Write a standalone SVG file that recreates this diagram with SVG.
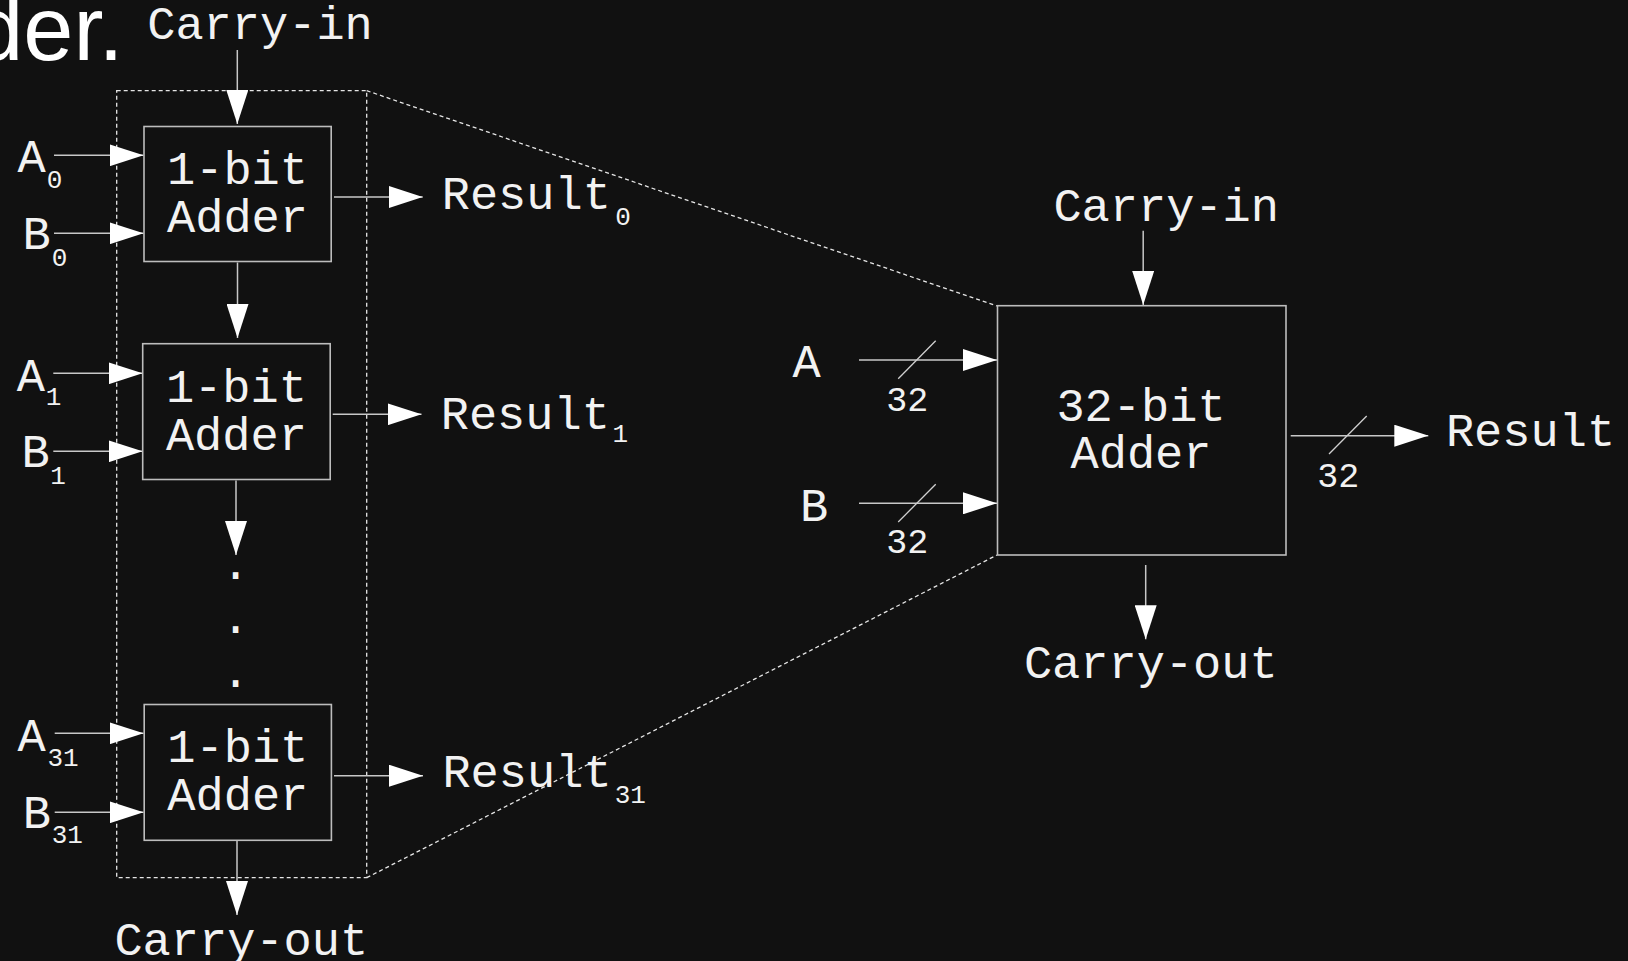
<svg xmlns="http://www.w3.org/2000/svg" width="1628" height="961" viewBox="0 0 1628 961">
  <defs>
    <marker id="ah" viewBox="0 0 34 22" refX="34" refY="11" markerWidth="34" markerHeight="22" markerUnits="userSpaceOnUse" orient="auto">
      <path d="M0,0 L34,11 L0,22 z" fill="#ffffff"/>
    </marker>
    <style>
      .bg { fill: #111111; }
      .box { fill: #111111; stroke: #bdbdbd; stroke-width: 1.6; }
      .dash { fill: none; stroke: #e6e6e6; stroke-width: 1.3; stroke-dasharray: 4 3; }
      .wire { fill: none; stroke: #c8c8c8; stroke-width: 1.5; marker-end: url(#ah); }
      .slash { fill: none; stroke: #d0d0d0; stroke-width: 1.3; }
      .t { font-family: "Liberation Mono", "Courier New", monospace; font-size: 47px; fill: #f2f2f2; text-anchor: middle; }
      .sub { font-family: "Liberation Mono", "Courier New", monospace; font-size: 26px; fill: #f2f2f2; text-anchor: middle; }
      .w { font-family: "Liberation Mono", "Courier New", monospace; font-size: 35px; fill: #f2f2f2; text-anchor: middle; }
      .title { font-family: "Liberation Sans", Arial, sans-serif; font-size: 90px; fill: #ffffff; text-anchor: end; }
    </style>
  </defs>

  <rect class="bg" x="0" y="0" width="1628" height="961"/>

  <!-- heading fragment -->
  <text class="title" x="123.4" y="60">der.</text>

  <!-- outline of the ripple-carry chain and its projection onto the 32-bit block -->
  <g id="chain-outline">
    <rect class="dash" x="116.7" y="90.7" width="250" height="787"/>
    <line class="dash" x1="366.7" y1="90.7" x2="997" y2="306"/>
    <line class="dash" x1="366.7" y1="877.7" x2="997" y2="555"/>
  </g>

  <!-- connectors -->
  <g id="connectors">
    <line class="wire" x1="237.3" y1="50" x2="237.3" y2="124"/>
    <line class="wire" x1="54" y1="155.3" x2="143.5" y2="155.3"/>
    <line class="wire" x1="54" y1="233.3" x2="143.5" y2="233.3"/>
    <line class="wire" x1="334" y1="197" x2="422.7" y2="197"/>
    <line class="wire" x1="237.5" y1="262.5" x2="237.5" y2="338"/>
    <line class="wire" x1="53.3" y1="373.3" x2="142.5" y2="373.3"/>
    <line class="wire" x1="53.3" y1="451.3" x2="142.5" y2="451.3"/>
    <line class="wire" x1="332.7" y1="414.3" x2="421.5" y2="414.3"/>
    <line class="wire" x1="236" y1="480.5" x2="236" y2="555"/>
    <line class="wire" x1="54.7" y1="733.3" x2="143.5" y2="733.3"/>
    <line class="wire" x1="54.7" y1="812.3" x2="143.5" y2="812.3"/>
    <line class="wire" x1="334" y1="775.7" x2="423" y2="775.7"/>
    <line class="wire" x1="237" y1="841" x2="237" y2="915"/>

    <line class="wire" x1="1143.2" y1="230.7" x2="1143.2" y2="305"/>
    <line class="wire" x1="859" y1="360" x2="997" y2="360"/>
    <line class="wire" x1="859" y1="503.3" x2="997" y2="503.3"/>
    <line class="wire" x1="1290.7" y1="435.7" x2="1428.3" y2="435.7"/>
    <line class="wire" x1="1145.7" y1="565" x2="1145.7" y2="639.3"/>

    <line class="slash" x1="898.2" y1="378.7" x2="935.7" y2="340.7"/>
    <line class="slash" x1="898.2" y1="522" x2="935.7" y2="484.3"/>
    <line class="slash" x1="1329" y1="454" x2="1366.7" y2="416"/>
  </g>

  <!-- 1-bit adder, bit 0 -->
  <g id="adder0">
    <rect class="box" x="144" y="126.5" width="187.2" height="135"/>
    <text class="t" x="237.5" y="184">1-bit</text>
    <text class="t" x="237.5" y="231.7">Adder</text>
  </g>

  <!-- 1-bit adder, bit 1 -->
  <g id="adder1">
    <rect class="box" x="142.7" y="343.7" width="187.5" height="135.8"/>
    <text class="t" x="236.4" y="401.7">1-bit</text>
    <text class="t" x="236.4" y="450">Adder</text>
  </g>

  <!-- elided middle stages -->
  <g id="ellipsis">
    <text class="t" x="235.5" y="579">.</text>
    <text class="t" x="235.5" y="633">.</text>
    <text class="t" x="235.5" y="687">.</text>
  </g>

  <!-- 1-bit adder, bit 31 -->
  <g id="adder31">
    <rect class="box" x="144.2" y="704.5" width="187.2" height="135.8"/>
    <text class="t" x="237.8" y="761.7">1-bit</text>
    <text class="t" x="237.8" y="810">Adder</text>
  </g>

  <!-- chain inputs and outputs -->
  <g id="chain-labels">
    <text class="t" x="260" y="39">Carry-in</text>
    <text class="t" x="31.5" y="171.7">A</text><text class="sub" x="54.5" y="187.7">0</text>
    <text class="t" x="36.5" y="249.3">B</text><text class="sub" x="59.5" y="265.7">0</text>
    <text class="t" x="526.3" y="209.3">Result</text><text class="sub" x="623" y="225">0</text>

    <text class="t" x="30.8" y="391">A</text><text class="sub" x="53.5" y="405">1</text>
    <text class="t" x="35.5" y="467.3">B</text><text class="sub" x="58" y="484">1</text>
    <text class="t" x="525.3" y="428.8">Result</text><text class="sub" x="620.3" y="442">1</text>

    <text class="t" x="31.5" y="750.7">A</text><text class="sub" x="63" y="766">31</text>
    <text class="t" x="36.8" y="828.3">B</text><text class="sub" x="67.3" y="843.3">31</text>
    <text class="t" x="527" y="787.3">Result</text><text class="sub" x="630.3" y="803.3">31</text>

    <text class="t" x="241.3" y="955">Carry-out</text>
  </g>

  <!-- 32-bit adder block -->
  <g id="adder32">
    <rect class="box" x="997.5" y="305.7" width="288.5" height="249.3"/>
    <text class="t" x="1141" y="420.7">32-bit</text>
    <text class="t" x="1141" y="468.3">Adder</text>
  </g>

  <g id="adder32-labels">
    <text class="t" x="1166.2" y="220.7">Carry-in</text>
    <text class="t" x="806.5" y="376.7">A</text>
    <text class="w" x="907.3" y="410.7">32</text>
    <text class="t" x="814" y="520.7">B</text>
    <text class="w" x="907.3" y="553.3">32</text>
    <text class="w" x="1338.3" y="486.7">32</text>
    <text class="t" x="1530.5" y="446">Result</text>
    <text class="t" x="1150.8" y="678.3">Carry-out</text>
  </g>
</svg>
